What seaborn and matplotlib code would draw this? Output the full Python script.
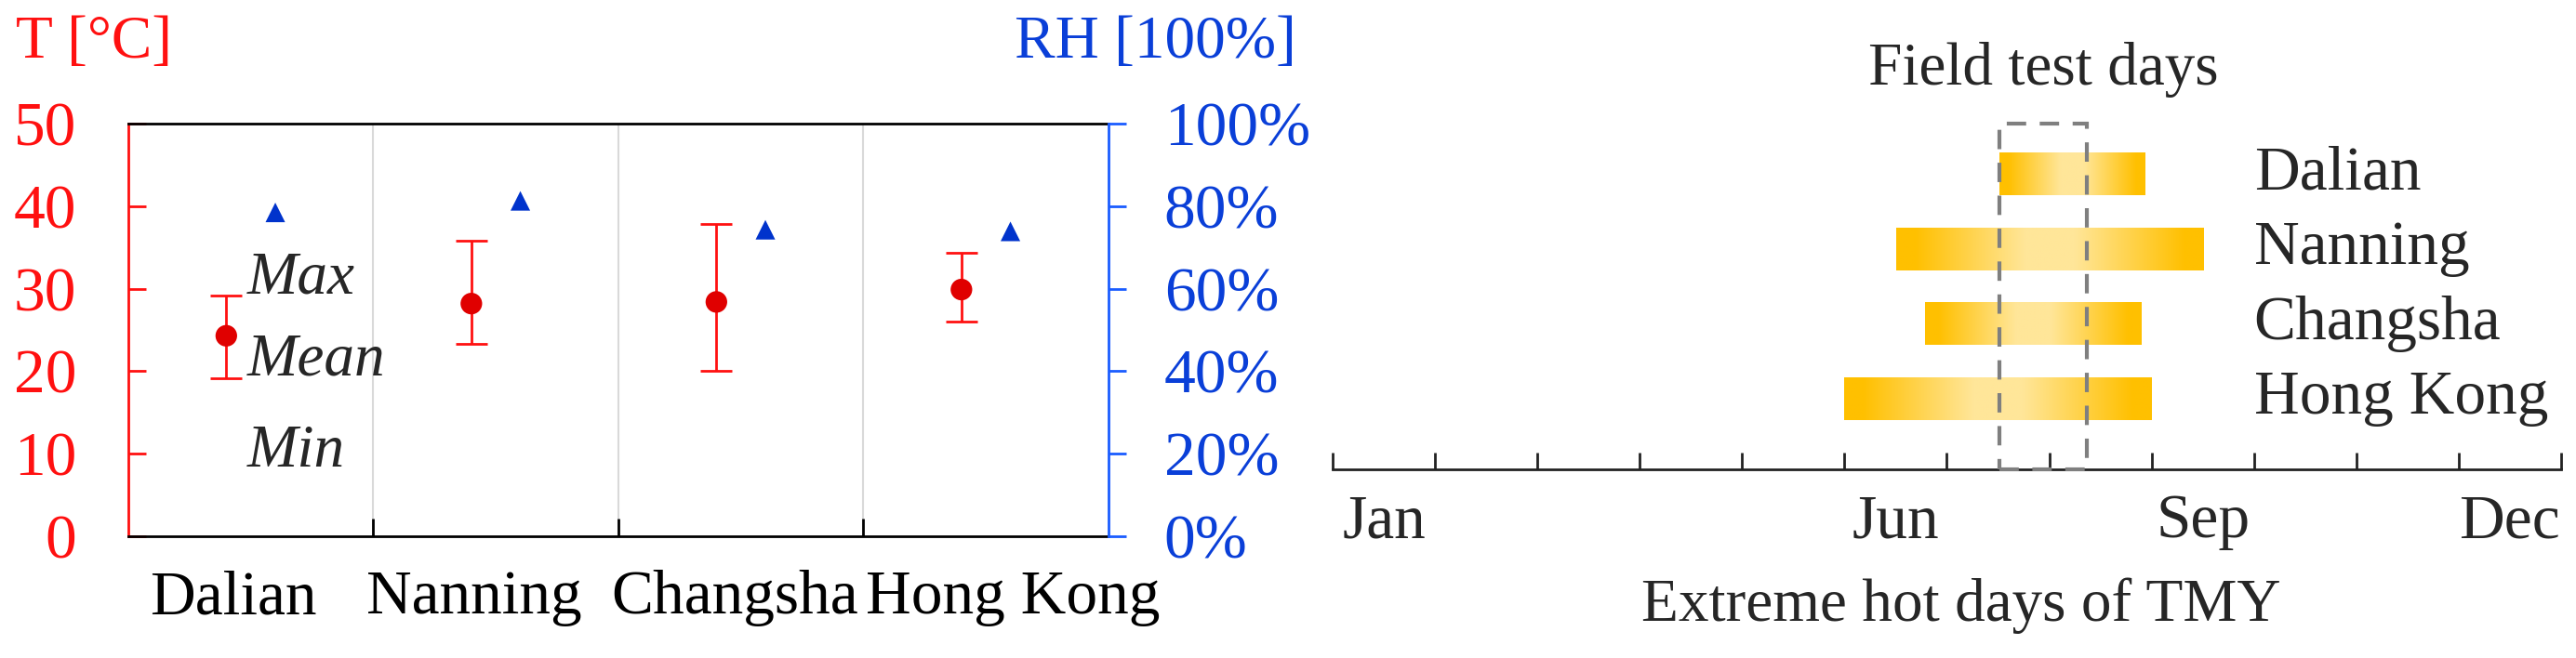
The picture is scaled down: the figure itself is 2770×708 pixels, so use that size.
import numpy as np
import seaborn as sns
import matplotlib.pyplot as plt
from matplotlib.colors import LinearSegmentedColormap
from matplotlib.patches import Rectangle
from matplotlib.ticker import PercentFormatter

# -----------------------------
# Data
# -----------------------------
cities = ["Dalian", "Nanning", "Changsha", "Hong Kong"]
t_mean = [24.3, 28.2, 28.4, 29.9]
t_max = [29.2, 35.8, 37.8, 34.3]
t_min = [19.1, 23.3, 20.1, 26.0]
rh_mean = [0.785, 0.813, 0.743, 0.739]

# extreme hot days of TMY, in months from Jan 1
hot_start = [6.51, 5.51, 5.79, 5.00]
hot_end = [7.93, 8.51, 7.90, 8.00]
field_test = [6.51, 7.37]
month_ticks = [0.5, 5.5, 8.5, 11.5]
month_labels = ["Jan", "Jun", "Sep", "Dec"]

# -----------------------------
# Style
# -----------------------------
sns.set_theme(style="white")
plt.rcParams["font.family"] = ["Liberation Serif", "DejaVu Serif"]
FS = 48.5
FS_S = 47
RED = "#FF1010"
RED_PT = "#E00000"
BLUE = "#1A5CFF"
BLUE_TXT = "#0A3FD8"
BLUE_PT = "#0033CC"

fig = plt.figure(figsize=(27.7, 7.08), dpi=100)
ax = fig.add_axes([0.0498, 0.185, 0.3805, 0.627])
ax_rh = ax.twinx()
ax_cal = fig.add_axes([0.5173, 0.2867, 0.4769, 0.525])

# -----------------------------
# Left: temperature / RH
# -----------------------------
xs = np.arange(len(cities))
lo = np.array(t_mean) - np.array(t_min)
hi = np.array(t_max) - np.array(t_mean)
ax.errorbar(xs - 0.1, t_mean, yerr=[lo, hi], fmt="none", ecolor=RED,
            elinewidth=2, capsize=12, capthick=2, zorder=3)
sns.scatterplot(x=xs - 0.1, y=t_mean, ax=ax, color=RED_PT, s=280,
                marker="o", edgecolor="none", zorder=4)
sns.scatterplot(x=xs + 0.1, y=rh_mean, ax=ax_rh, color=BLUE_PT, s=230,
                marker="^", edgecolor="none", zorder=4)

ax.set_xlim(-0.5, 3.5)
ax.set_ylim(0, 50)
ax_rh.set_ylim(0, 1)

# category names sit slightly off-centre, as in the original layout
label_pos = xs + np.array([-0.07, -0.087, -0.027, 0.11])
ax.set_xticks([0.5, 1.5, 2.5])
ax.set_xticklabels([])
ax.set_xticks(label_pos, cities, minor=True)
ax.tick_params(axis="x", which="major", direction="in", length=14,
               width=2, color="black", bottom=True)
ax.tick_params(axis="x", which="minor", length=0, pad=26, labelsize=FS,
               labelcolor="black", bottom=True)
ax.grid(axis="x", which="major", color="#D9D9D9", linewidth=1.5)
ax.grid(axis="y", visible=False)

ax.set_yticks(range(0, 51, 10))
ax.tick_params(axis="y", direction="in", length=14, width=2, color=RED,
               labelcolor=RED, labelsize=FS, pad=40, left=True)
ax_rh.set_yticks(np.linspace(0, 1, 6))
ax_rh.yaxis.set_major_formatter(PercentFormatter(1.0, decimals=0))
ax_rh.tick_params(axis="y", direction="out", length=14, width=2, color=BLUE,
                  labelcolor=BLUE_TXT, labelsize=FS, pad=29, right=True)

for s in ["top", "bottom"]:
    ax.spines[s].set_color("black")
    ax.spines[s].set_linewidth(2)
ax.spines["left"].set_color(RED)
ax.spines["left"].set_linewidth(2)
ax.spines["right"].set_visible(False)
for s in ["top", "bottom", "left"]:
    ax_rh.spines[s].set_visible(False)
ax_rh.spines["right"].set_color(BLUE)
ax_rh.spines["right"].set_linewidth(2)
ax_rh.grid(False)

ax.text(-0.014, 29.5, "Max", fontsize=FS_S, style="italic", va="baseline")
ax.text(-0.014, 19.5, "Mean", fontsize=FS_S, style="italic", va="baseline")
ax.text(-0.014, 8.4, "Min", fontsize=FS_S, style="italic", va="baseline")

fig.text(0.0366, 0.934, "T [\u00b0C]", color=RED, fontsize=FS_S,
         ha="center", va="center")
fig.text(0.4484, 0.934, "RH [100%]", color=BLUE_TXT, fontsize=FS_S,
         ha="center", va="center")

# -----------------------------
# Right: extreme hot days
# -----------------------------
rows = [3, 2, 1, 0]
widths = np.array(hot_end) - np.array(hot_start)
bars = ax_cal.barh(rows, widths, left=hot_start, height=0.57,
                   color="none", edgecolor="none")

grad = LinearSegmentedColormap.from_list(
    "gold",
    [(0.0, "#FFC000"), (0.06, "#FFC000"), (0.42, "#FFE699"),
     (0.58, "#FFE699"), (0.94, "#FFC000"), (1.0, "#FFC000")])
g = np.linspace(0, 1, 256).reshape(1, -1)
for b in bars:
    x0, y0 = b.get_x(), b.get_y()
    im = ax_cal.imshow(g, cmap=grad, aspect="auto", interpolation="bilinear",
                       extent=[x0, x0 + b.get_width(), y0, y0 + b.get_height()],
                       zorder=2)
    im.set_clip_path(b)

ax_cal.set_xlim(0, 12)
ax_cal.set_ylim(-0.95, 3.67)

box = Rectangle((field_test[0], -0.95), field_test[1] - field_test[0], 4.62,
                fill=False, edgecolor="#7F7F7F", linewidth=3,
                linestyle=(0, (5, 3.5)), zorder=3, clip_on=False)
ax_cal.add_patch(box)

for r, c in zip(rows, cities):
    ax_cal.text(9.0, r, c, fontsize=FS, va="center", ha="left")
ax_cal.text(np.mean(field_test), 4.40, "Field test days", fontsize=FS_S,
            ha="center", va="center")

ax_cal.set_xticks(range(13))
ax_cal.set_xticklabels([])
ax_cal.set_xticks(month_ticks, month_labels, minor=True)
ax_cal.tick_params(axis="x", which="major", direction="in", length=13,
                   width=2, color="#222222", bottom=True)
ax_cal.tick_params(axis="x", which="minor", length=0, pad=19, labelsize=FS,
                   bottom=True)
ax_cal.set_yticks([])
for s in ["top", "left", "right"]:
    ax_cal.spines[s].set_visible(False)
ax_cal.spines["bottom"].set_color("#222222")
ax_cal.spines["bottom"].set_linewidth(2)
ax_cal.grid(False)

fig.text(0.7614, 0.079, "Extreme hot days of TMY", fontsize=FS_S,
         ha="center", va="center")

fig.savefig("out.png", dpi=100)
